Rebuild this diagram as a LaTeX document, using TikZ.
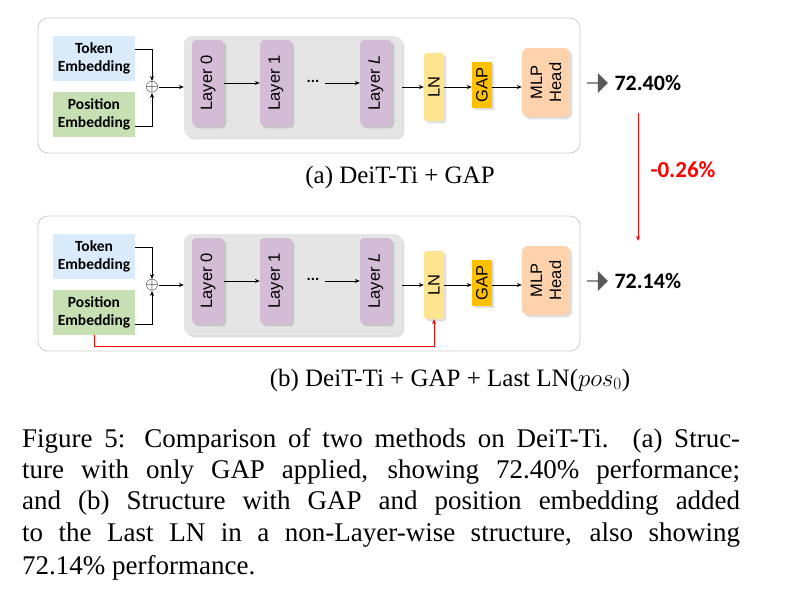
\documentclass[tikz,border=0pt]{standalone}
\usepackage{fontspec}
\setmainfont{Liberation Serif}
\newfontfamily\calfnt{Carlito}
\newfontfamily\sansfnt{Liberation Sans}
\usetikzlibrary{arrows.meta,shapes.arrows,shadows}
\definecolor{tokc}{HTML}{DAEBFB}
\definecolor{posc}{HTML}{C6E0B4}
\definecolor{layc}{HTML}{D5BCD6}
\definecolor{lnc}{HTML}{FFE490}
\definecolor{gapc}{HTML}{FFC000}
\definecolor{mlpc}{HTML}{FDD2AC}
\begin{document}
\begin{tikzpicture}[x=1pt,y=-1pt,
 panel/.style={draw=black!20,rounded corners=10pt,line width=0.8pt},
 emb/.style={font=\calfnt\bfseries\fontsize{15.5}{18}\selectfont,align=center,inner sep=0},
 lay/.style={fill=layc,rounded corners=4pt,drop shadow={opacity=0.3}},
 rl/.style={font=\sansfnt\fontsize{16.5}{18}\selectfont,rotate=90},
 arr/.style={-{Stealth[length=5pt,width=4pt]},line width=0.7pt},
 pct/.style={font=\calfnt\bfseries\fontsize{22}{24}\selectfont,anchor=west}]
\useasboundingbox (0,0) rectangle (793,605);
\foreach \p/\dy in {a/0,b/198}{
\begin{scope}[yshift=-\dy pt]
 \draw[panel] (38,18) rectangle (580,153);
 \node[emb,fill=tokc,minimum width=82pt,minimum height=45pt] (\p tok) at (94,58.5) {Token\\Embedding};
 \node[emb,fill=posc,minimum width=82pt,minimum height=45pt] (\p pos) at (94,114.5) {Position\\Embedding};
 \node[inner sep=0,font=\fontsize{17}{17}\selectfont] (\p plus) at (152,87) {$\oplus$};
 \draw[arr] (\p tok.east|-0,49) -| (\p plus.north);
 \draw[arr] (\p pos.east|-0,126) -| (\p plus.south);
 \node[fill=black!10,rounded corners=8pt,minimum width=218pt,minimum height=101pt,drop shadow={opacity=0.25}] (\p grp) at (293,86.5) {};
 \node[lay,minimum width=32pt,minimum height=86pt] (\p l0) at (208,83) {};
 \node[rl] at (\p l0) {Layer 0};
 \node[lay,minimum width=32pt,minimum height=86pt] (\p l1) at (276,83) {};
 \node[rl] at (\p l1) {Layer 1};
 \node[font=\calfnt\bfseries\fontsize{16}{16}\selectfont,inner sep=1pt] (\p dots) at (313,81) {...};
 \node[lay,minimum width=32pt,minimum height=86pt] (\p lL) at (376,83) {};
 \node[rl] at (\p lL) {Layer \textit{L}};
 \node[fill=lnc,rounded corners=3pt,minimum width=20pt,minimum height=68pt,drop shadow={opacity=0.25}] (\p ln) at (434,87) {};
 \node[rl] at (\p ln) {LN};
 \node[fill=gapc,minimum width=20pt,minimum height=46pt,drop shadow={opacity=0.25}] (\p gap) at (482,85) {};
 \node[rl] at (\p gap) {GAP};
 \node[fill=mlpc,rounded corners=6pt,minimum width=48pt,minimum height=69pt,drop shadow={opacity=0.25}] (\p mlp) at (546,82.5) {};
 \node[rl,align=center,font=\sansfnt\fontsize{16.5}{19}\selectfont] at (\p mlp) {MLP\\Head};
 \draw[arr] (\p plus) -- (\p grp.west|-\p plus);
 \draw[arr] (\p l0.east|-0,83) -- (\p l1.west|-0,83);
 \draw[arr] ([xshift=4pt]\p dots.east|-0,83) -- (\p lL.west|-0,83);
 \draw[arr] (\p grp.east|-0,87) -- (\p ln.west|-0,87);
 \draw[arr] (\p ln.east|-0,87) -- (\p gap.west|-0,87);
 \draw[arr] (\p gap.east|-0,87) -- (\p mlp.west|-0,87);
 \node[single arrow,fill=black!65,minimum height=21pt,single arrow head extend=3pt,minimum width=20pt,inner sep=0] (\p bar) at (597,83) {};
\end{scope}}
\node[pct] (pa) at (611,83) {72.40\%};
\node[pct] (pb) at (611,281) {72.14\%};
\draw[red,line width=0.9pt,arr] (bpos.south) -- ++(0,11) -| (bln.south);
\coordinate (rt) at (638,113);
\coordinate (rb) at (638,241);
\draw[red,line width=0.9pt,arr] (rt) -- (rb);
\node[font=\calfnt\bfseries\fontsize{23}{25}\selectfont,text=red] (d) at (683,170) {-0.26\%};
\node[font=\fontsize{25}{28}\selectfont] (ca) at (400,177) {(a) DeiT-Ti + GAP};
\node[font=\fontsize{25}{28}\selectfont] (cb) at (450,380) {(b) DeiT-Ti + GAP + Last LN($pos_0$)};
\foreach \t [count=\i] in {{Figure 5: Comparison of two methods on DeiT-Ti. (a) Struc-},{ture with only GAP applied, showing 72.40\% performance;},{and (b) Structure with GAP and position embedding added},{to the Last LN in a non-Layer-wise structure, also showing}}
 \node[anchor=west,inner sep=0,font=\fontsize{27}{30}\selectfont] (f\i) at (22,409+31.5*\i) {\makebox[718pt][s]{\t}};
\node[anchor=west,inner sep=0,font=\fontsize{27}{30}\selectfont] (f5) at (22,568) {72.14\% performance.};
\end{tikzpicture}
\end{document}
